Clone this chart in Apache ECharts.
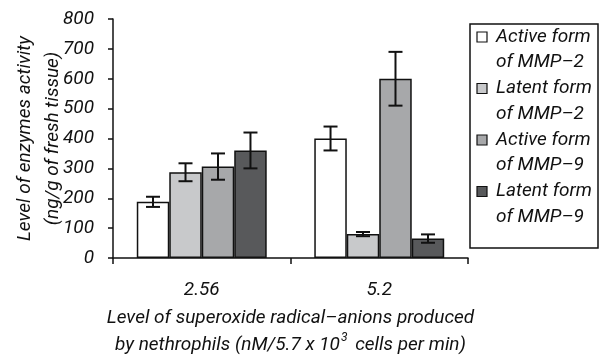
<!DOCTYPE html>
<html>
<head>
<meta charset="utf-8">
<script src="https://cdn.jsdelivr.net/npm/echarts@6/dist/echarts.min.js"></script>
<style>
  html, body { margin: 0; padding: 0; background: #fff; }
  #main { width: 599px; height: 356px; }
</style>
</head>
<body>
<div id="main"></div>
<script>
// data
var categories = ['2.56', '5.2'];
var seriesNames = ['Active form\nof MMP\u20132', 'Latent form\nof MMP\u20132', 'Active form\nof MMP\u20139', 'Latent form\nof MMP\u20139'];
var colors = ['#ffffff', '#c8c9cb', '#a7a8aa', '#58595b'];
var means = [
    [188, 400],
    [287, 80],
    [306, 600],
    [360, 65]
];
var errors = [
    [17, 40],
    [30, 7],
    [44, 90],
    [60, 14]
];
var yTicks = [0, 100, 200, 300, 400, 500, 600, 700, 800];

var FONT = 'Roboto, "Liberation Sans", sans-serif';
var CAT_GAP = 0.268;

var myChart = echarts.init(document.getElementById('main'));

var series = [];
means.forEach(function (vals, i) {
    series.push({
        name: seriesNames[i],
        type: 'bar',
        data: vals,
        barGap: '0%',
        barCategoryGap: (CAT_GAP * 100) + '%',
        itemStyle: { color: colors[i], borderColor: '#111', borderWidth: 1.5 },
        silent: true
    });
});
// error bars
means.forEach(function (vals, i) {
    series.push({
        type: 'custom',
        silent: true,
        z: 5,
        data: vals.map(function (v, j) { return [j, v, errors[i][j]]; }),
        renderItem: function (params, api) {
            var c = api.coord([api.value(0), api.value(1)]);
            var band = api.size([1, 0])[0];
            var bw = band * (1 - CAT_GAP) / 4;
            var x = c[0] + (i - 1.5) * bw;
            var hi = api.coord([api.value(0), api.value(1) + api.value(2)])[1];
            var lo = api.coord([api.value(0), api.value(1) - api.value(2)])[1];
            var cap = 7;
            var st = { stroke: '#111', lineWidth: 2 };
            return {
                type: 'group',
                children: [
                    { type: 'line', shape: { x1: x, y1: hi, x2: x, y2: lo }, style: st },
                    { type: 'line', shape: { x1: x - cap, y1: hi, x2: x + cap, y2: hi }, style: st },
                    { type: 'line', shape: { x1: x - cap, y1: lo, x2: x + cap, y2: lo }, style: st }
                ]
            };
        }
    });
});

// legend drawn as graphic, built from the names and colours
var legendItems = [];
seriesNames.forEach(function (n, i) {
    var y0 = 32 + i * 51.5;
    legendItems.push({
        type: 'rect',
        shape: { x: 477, y: y0, width: 10, height: 10 },
        style: { fill: colors[i], stroke: '#111', lineWidth: 1.2 }
    });
    legendItems.push({
        type: 'text',
        x: 496,
        y: y0 + 5 - 12.75,
        style: {
            text: n,
            font: 'italic 19px ' + FONT,
            fill: '#111',
            lineHeight: 25.5,
            verticalAlign: 'top'
        }
    });
});

var option = {
    animation: false,
    grid: { left: 113, right: 131, top: 19, bottom: 98, outerBoundsMode: 'none' },
    xAxis: {
        type: 'category',
        data: categories,
        axisLine: { lineStyle: { color: '#111', width: 1.5 } },
        axisTick: { show: true, length: 6, lineStyle: { color: '#111', width: 1.5 } },
        axisLabel: { margin: 23, fontFamily: FONT, fontStyle: 'italic', fontSize: 19, color: '#111' },
        name: 'Level of superoxide radical\u2013anions produced\nby nethrophils (nM/5.7 x 10{sup|3} cells per min)',
        nameLocation: 'middle',
        nameGap: 47,
        nameTextStyle: {
            fontFamily: FONT, fontStyle: 'italic', fontSize: 19, color: '#111', lineHeight: 27,
            rich: {
                sup: { fontFamily: FONT, fontStyle: 'italic', fontSize: 12, color: '#111', verticalAlign: 'top', padding: [0, 3, 9, 1] }
            }
        }
    },
    yAxis: {
        type: 'value',
        min: yTicks[0],
        max: yTicks[yTicks.length - 1],
        interval: 100,
        splitLine: { show: false },
        axisLine: { show: true, lineStyle: { color: '#111', width: 1.5 } },
        axisTick: { show: true, length: 5, lineStyle: { color: '#111', width: 1.5 } },
        axisLabel: { margin: 19, fontFamily: FONT, fontStyle: 'italic', fontSize: 19, color: '#111' },
        name: 'Level of enzymes activity\n(ng/g of fresh tissue)',
        nameLocation: 'middle',
        nameMoveOverlap: false,
        nameGap: 46,
        nameTextStyle: { fontFamily: FONT, fontStyle: 'italic', fontSize: 19, color: '#111', lineHeight: 28 }
    },
    graphic: [
        {
            type: 'rect',
            shape: { x: 470, y: 24, width: 128, height: 224 },
            style: { fill: '#fff', stroke: '#111', lineWidth: 1.5 }
        }
    ].concat(legendItems),
    series: series
};

myChart.setOption(option);
</script>
</body>
</html>
